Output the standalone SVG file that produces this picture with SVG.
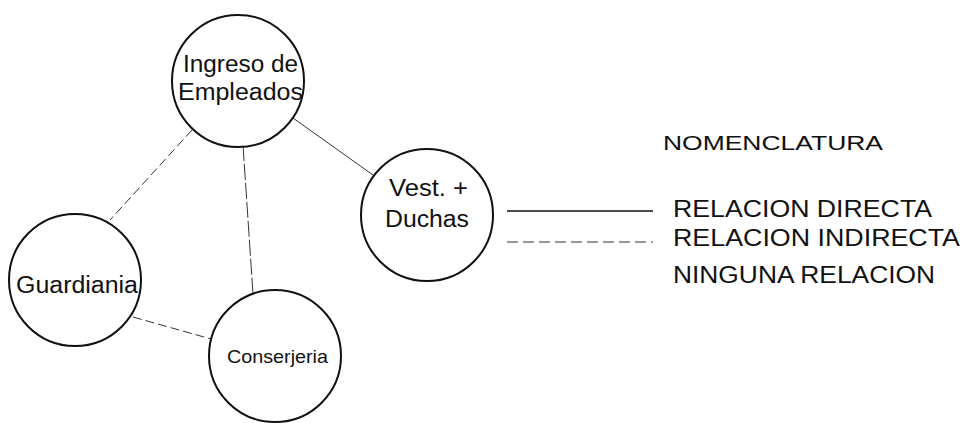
<svg xmlns="http://www.w3.org/2000/svg" width="963" height="423" viewBox="0 0 963 423">
<style>
.node{fill:#fff;stroke:#111;stroke-width:2}
.lbl{font-family:"Liberation Sans",Arial,sans-serif;fill:#111}
.conn{stroke:#333;stroke-width:1;fill:none}
.dash{stroke-dasharray:9 4}
.dash2{stroke-dasharray:16 3}
</style>
<rect width="963" height="423" fill="#fff"/>
<g id="connectors">
<line class="conn" x1="293" y1="118" x2="373" y2="175"/>
<line class="conn dash" x1="192" y1="130" x2="110" y2="220"/>
<line class="conn dash2" x1="243" y1="145" x2="253" y2="294"/>
<line class="conn dash" x1="133" y1="317" x2="211" y2="339"/>
</g>
<g id="ingreso">
<circle class="node" cx="238" cy="81" r="66"/>
<text class="lbl" x="183" y="72" font-size="23" textLength="115" lengthAdjust="spacingAndGlyphs">Ingreso de</text>
<text class="lbl" x="178" y="100" font-size="23" textLength="125" lengthAdjust="spacingAndGlyphs">Empleados</text>
</g>
<g id="vest">
<circle class="node" cx="427" cy="215" r="66"/>
<text class="lbl" x="389" y="196" font-size="23" textLength="79" lengthAdjust="spacingAndGlyphs">Vest. +</text>
<text class="lbl" x="385" y="227" font-size="23" textLength="84" lengthAdjust="spacingAndGlyphs">Duchas</text>
</g>
<g id="guardiania">
<circle class="node" cx="75" cy="280" r="66"/>
<text class="lbl" x="16" y="293" font-size="23" textLength="122" lengthAdjust="spacingAndGlyphs">Guardiania</text>
</g>
<g id="conserjeria">
<circle class="node" cx="275" cy="356" r="66"/>
<text class="lbl" x="227" y="363" font-size="19" textLength="101" lengthAdjust="spacingAndGlyphs">Conserjeria</text>
</g>
<g id="legend">
<text class="lbl" x="663" y="150" font-size="21" textLength="220" lengthAdjust="spacingAndGlyphs">NOMENCLATURA</text>
<line stroke="#111" stroke-width="1.5" x1="507" y1="211" x2="653" y2="211"/>
<line stroke="#333" stroke-width="1.2" stroke-dasharray="11 5" x1="507" y1="242" x2="653" y2="242"/>
<text class="lbl" x="673" y="217" font-size="23" textLength="259" lengthAdjust="spacingAndGlyphs">RELACION DIRECTA</text>
<text class="lbl" x="673" y="246" font-size="23" textLength="287" lengthAdjust="spacingAndGlyphs">RELACION INDIRECTA</text>
<text class="lbl" x="673" y="283" font-size="23" textLength="262" lengthAdjust="spacingAndGlyphs">NINGUNA RELACION</text>
</g>
</svg>
